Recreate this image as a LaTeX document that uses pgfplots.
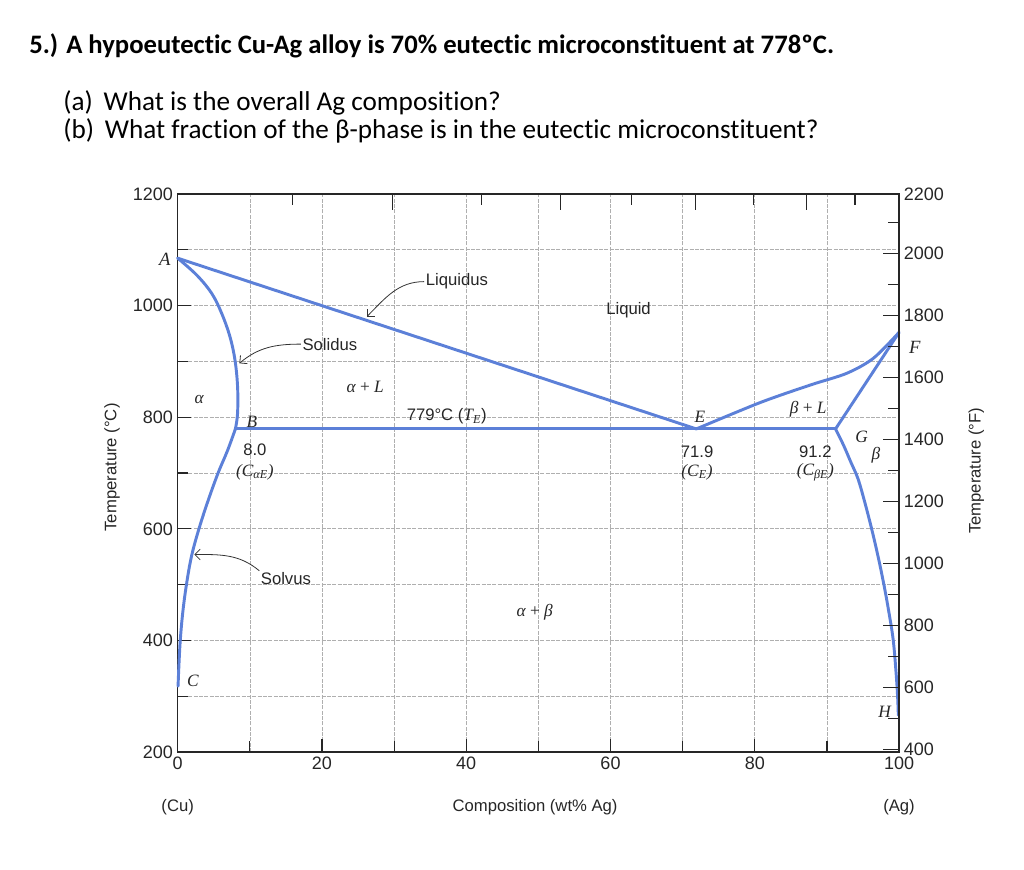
\documentclass[border=0pt]{standalone}
\usepackage{pgfplots}
\pgfplotsset{compat=1.18}
\usetikzlibrary{arrows.meta}
\usepackage{fontspec}
\setmainfont{Liberation Sans}
\newfontfamily\carlito[Ligatures={NoCommon}]{Carlito}
\newfontfamily\si{Liberation Serif}[UprightFont=* Italic]
\newfontfamily\sr{Liberation Serif}
\definecolor{phase}{RGB}{92,128,216}
\definecolor{gridc}{RGB}{175,175,175}
\begin{document}
\begin{tikzpicture}
\path[use as bounding box] (0pt,0pt) rectangle (768pt,-651.75pt);
\begin{scope}[x=0.75pt,y=-0.75pt]
\node[anchor=base west,inner sep=0pt,font=\carlito\bfseries\fontsize{20}{24}\selectfont] at (29,53.3) {5.) A hypoeutectic Cu-Ag alloy is 70\% eutectic microconstituent at 778ºC.};
\node[anchor=base west,inner sep=0pt,font=\carlito\fontsize{20.4}{24}\selectfont] at (63,110) {(a)\hspace{0.4em}What is the overall Ag composition?};
\node[anchor=base west,inner sep=0pt,font=\carlito\fontsize{20.4}{24}\selectfont] at (63,138.3) {(b)\hspace{0.4em}What fraction of the β-phase is in the eutectic microconstituent?};
\end{scope}
\begin{axis}[
  at={(133.275pt,-564pt)}, anchor=south west,
  width=541pt, height=418.5pt, scale only axis,
  xmin=0, xmax=100, ymin=200, ymax=1200,
  xtick={0,20,40,60,80,100}, minor xtick={10,30,50,70,90},
  ytick={200,400,600,800,1000,1200}, minor ytick={300,500,700,900,1100},
  xtick pos=left, ytick pos=left, tick align=inside,
  major tick length=10pt, minor tick length=8pt,
  grid=both,
  major grid style={gridc,line width=0.5pt,dash pattern=on 3pt off 1pt},
  minor grid style={gridc,line width=0.5pt,dash pattern=on 3pt off 1pt},
  axis line style={black!85,line width=1pt},
  tick style={black!85,line width=0.9pt},
  ticklabel style={font=\fontsize{13.5}{16}\selectfont, text=black!85},
  /pgf/number format/assume math mode=true,
  /pgf/number format/1000 sep={},
  clip=false,
  ph/.style={phase, line width=2.2pt, line join=round, line cap=round, no marks},
]
% liquidus A-E
\addplot[ph] coordinates {(0,1085) (71.9,779)};
% alpha solidus
\addplot[ph, smooth, tension=0.6] coordinates {(0,1085) (2.63,1054.8) (4.71,1022) (6.10,986) (7.25,944) (7.94,902.5) (8.3,855) (8.3,807) (8.0,779)};
% alpha solvus
\addplot[ph, smooth, tension=0.6] coordinates {(8.0,779) (6.9,740) (5.6,700) (4.2,650) (2.9,598) (1.9,550) (1.2,499) (0.7,450) (0.35,399) (0.15,350) (0.05,318)};
% eutectic isotherm
\addplot[ph] coordinates {(8.0,779) (91.2,779)};
% liquidus E-F
\addplot[ph, smooth, tension=0.5] coordinates {(71.9,779) (80.7,826) (87.7,857.7) (92.75,878.7) (96.44,905.6) (100,952)};
% beta solidus
\addplot[ph] coordinates {(91.2,779) (100,952)};
% beta solvus
\addplot[ph, smooth, tension=0.6] coordinates {(91.2,779) (92.3,750) (93.3,720) (94.3,690) (95.2,650) (96.2,600) (97.1,550) (97.9,500) (98.6,450) (99.2,400) (99.6,340) (99.8,300) (99.9,266)};

\begin{scope}[every node/.style={font=\fontsize{12.5}{15}\selectfont, text=black!85, inner sep=1pt}]
\node[font=\si\fontsize{14}{16}\selectfont] at (axis cs:-1.8,1083) {A};
\node[font=\si\fontsize{13}{16}\selectfont] at (axis cs:2.96,831) {α};
\node[font=\si\fontsize{13}{16}\selectfont] at (axis cs:26,855) {α {\sr+} L};
\node (sol) at (axis cs:21.1,931) {Solidus};
\draw[black!80, line width=0.6pt, -{Straight Barb[length=4pt]}] (sol.west) to[out=180,in=40] (axis cs:8.55,896.6);
\node (liq) at (axis cs:38.7,1043) {Liquidus};
\draw[black!80, line width=0.6pt, -{Straight Barb[length=4pt]}] (liq.west) to[out=180,in=45] (axis cs:26.2,980);
\node at (axis cs:62.5,992) {Liquid};
\node at (axis cs:37.3,801) {779°C ({\si\fontsize{13}{16}\selectfont T\textsubscript{E}})};
\node[font=\si\fontsize{13}{16}\selectfont] at (axis cs:10.3,791) {B};
\node at (axis cs:10.7,742.5) {8.0};
\node[font=\si\fontsize{13}{16}\selectfont] at (axis cs:10.7,702) {({C}\textsubscript{αE})};
\node[font=\si\fontsize{13}{16}\selectfont] at (axis cs:72.4,800) {E};
\node at (axis cs:72,738) {71.9};
\node[font=\si\fontsize{13}{16}\selectfont] at (axis cs:72,702) {(C\textsubscript{E})};
\node[font=\si\fontsize{13}{16}\selectfont] at (axis cs:87.4,814) {β {\sr+} L};
\node[font=\si\fontsize{13}{16}\selectfont] at (axis cs:94.8,765) {G};
\node[font=\si\fontsize{13}{16}\selectfont] at (axis cs:96.8,732) {β};
\node at (axis cs:88.4,738) {91.2};
\node[font=\si\fontsize{13}{16}\selectfont] at (axis cs:88.4,702) {(C\textsubscript{βE})};
\node[font=\si\fontsize{14}{16}\selectfont] at (axis cs:102.2,926) {F};
\node (slv) at (axis cs:15,511) {Solvus};
\draw[black!80, line width=0.6pt, -{Straight Barb[length=4pt]}] (slv.north west) to[out=140,in=0] (axis cs:2.3,554);
\node[font=\si\fontsize{13}{16}\selectfont] at (axis cs:2.1,328) {C};
\node[font=\si\fontsize{13}{16}\selectfont] at (axis cs:49.5,451) {α {\sr+} β};
\node[font=\si\fontsize{13}{16}\selectfont] at (axis cs:98,272) {H};
\node at (axis cs:0,102) {(Cu)};
\node at (axis cs:100,102) {(Ag)};
\node at (axis cs:49.55,102) {Composition (wt\% Ag)};
\node[rotate=90] at (axis cs:-9.1,710) {Temperature (°C)};
\node[rotate=90] at (axis cs:110.7,704) {Temperature (°F)};
\end{scope}
\end{axis}
\begin{axis}[
  at={(133.275pt,-564pt)}, anchor=south west,
  width=541pt, height=418.5pt, scale only axis,
  xmin=0, xmax=100, ymin=392, ymax=2192,
  axis x line*=top, axis y line*=right,
  xtick={29.8,53.1,71.8,87.2}, minor xtick={15.9,42.1,62.9,79.8,93.9}, xticklabels={},
  ytick={400,600,800,1000,1200,1400,1600,1800,2000,2190},
  yticklabels={400,600,800,1000,1200,1400,1600,1800,2000,2200},
  minor ytick={500,700,900,1100,1300,1500,1700,1900,2100},
  tick align=inside, major tick length=12pt, minor tick length=8.5pt,
  axis line style={black!85,line width=1pt},
  tick style={black!85,line width=0.9pt},
  ticklabel style={font=\fontsize{13.5}{16}\selectfont, text=black!85},
  /pgf/number format/assume math mode=true,
  /pgf/number format/1000 sep={},
]
\end{axis}
\end{tikzpicture}
\end{document}
